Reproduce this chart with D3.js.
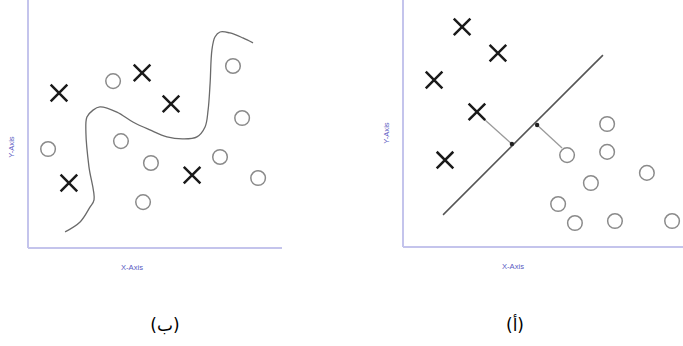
<!DOCTYPE html>
<html>
<head>
<meta charset="utf-8">
<script src="https://cdn.jsdelivr.net/npm/d3@7"></script>
<style>
  html, body { margin: 0; padding: 0; background: #ffffff; }
  svg { display: block; }
</style>
</head>
<body>
<script>
// ---- Data (values in 0..100 panel units) ----
// Left panel (ب): non-linear boundary
const leftCrosses = [[12.2, 62.5], [44.9, 70.6], [56.3, 58.1], [16.1, 26.2], [64.6, 29.4]];
const leftCircles = [[33.5, 67.3], [7.9, 39.9], [36.6, 43.1], [48.4, 34.3], [45.3, 18.5],
                     [80.7, 73.4], [84.3, 52.4], [75.6, 36.7], [90.6, 28.2]];
const leftCurve = [[14.6, 6.5], [20.5, 10.5], [24.4, 16.5], [26.0, 19.4], [24.0, 32.7],
                   [22.8, 46.4], [23.2, 52.8], [25.6, 55.6], [28.3, 56.9], [35.0, 54.8],
                   [41.3, 50.8], [48.0, 47.6], [54.7, 44.8], [61.0, 44.0], [66.5, 44.8],
                   [69.7, 48.8], [70.9, 55.6], [71.7, 66.5], [72.4, 79.8], [73.6, 85.1],
                   [75.6, 87.1], [79.5, 86.7], [84.6, 84.7], [88.6, 82.7]];

// Right panel (أ): linear boundary with margins
const rightCrosses = [[21.1, 89.1], [33.9, 78.5], [11.1, 67.6], [26.4, 54.7], [15.0, 35.2]];
const rightCircles = [[72.9, 49.8], [58.6, 37.2], [72.9, 38.5], [87.1, 30.0], [67.1, 25.9],
                      [55.4, 17.4], [61.4, 9.7], [75.7, 10.5], [96.1, 10.5]];
const rightLine = [[14.3, 13.0], [71.4, 77.7]];
const supportDots = [[38.9, 41.7], [47.9, 49.4]];
const supportSegments = [[[29.3, 51.4], [38.9, 41.7]], [[47.9, 49.4], [56.8, 40.1]]];

const axisLabels = { x: "X-Axis", y: "Y-Axis" };
const panelCaptions = ["(ب)", "(أ)"];

// ---- Drawing ----
const W = 683, H = 346;
const svg = d3.select("body").append("svg").attr("width", W).attr("height", H);

const axisColor = "#c4c4ec";
const labelColor = "#5a5ac2";

function panel(cfg) {
  const x = d3.scaleLinear().domain([0, 100]).range([cfg.x0, cfg.x1]);
  const y = d3.scaleLinear().domain([0, 100]).range([cfg.y0, cfg.y1]);
  const g = svg.append("g");

  g.append("line").attr("x1", x(0)).attr("x2", x(0)).attr("y1", y(0)).attr("y2", y(100))
    .attr("stroke", axisColor).attr("stroke-width", 2);
  g.append("line").attr("x1", x(0)).attr("x2", x(100)).attr("y1", y(0)).attr("y2", y(0))
    .attr("stroke", axisColor).attr("stroke-width", 2);

  g.append("text").attr("x", (x(0) + x(100)) / 2 + cfg.xlabOff).attr("y", y(0) + 22)
    .attr("text-anchor", "middle").attr("font-family", "Liberation Sans, Arial, sans-serif")
    .attr("font-size", 7.6).attr("fill", labelColor).text(axisLabels.x);
  g.append("text")
    .attr("transform", `translate(${x(0) - 14},${cfg.ylabY}) rotate(-90)`)
    .attr("text-anchor", "middle").attr("font-family", "Liberation Sans, Arial, sans-serif")
    .attr("font-size", 7.6).attr("fill", labelColor).text(axisLabels.y);
  return { g, x, y };
}

function drawCrosses(p, data) {
  const s = 8.3;
  p.g.selectAll(null).data(data).enter().append("path")
    .attr("d", d => {
      const cx = p.x(d[0]), cy = p.y(d[1]);
      return `M${cx - s},${cy - s}L${cx + s},${cy + s}M${cx - s},${cy + s}L${cx + s},${cy - s}`;
    })
    .attr("stroke", "#1a1a1a").attr("stroke-width", 2.5).attr("fill", "none");
}
function drawCircles(p, data) {
  p.g.selectAll(null).data(data).enter().append("circle")
    .attr("cx", d => p.x(d[0])).attr("cy", d => p.y(d[1])).attr("r", 7.3)
    .attr("fill", "#fff").attr("stroke", "#8a8a8a").attr("stroke-width", 1.5);
}

// Left panel
const L = panel({ x0: 28, x1: 282, y0: 248, y1: 0, xlabOff: -23, ylabY: 147 });
L.g.append("path")
  .attr("d", d3.line().x(d => L.x(d[0])).y(d => L.y(d[1])).curve(d3.curveCatmullRom.alpha(0.5))(leftCurve))
  .attr("fill", "none").attr("stroke", "#6a6a6a").attr("stroke-width", 1.3);
drawCrosses(L, leftCrosses);
drawCircles(L, leftCircles);

// Right panel
const R = panel({ x0: 403, x1: 683, y0: 247, y1: 0, xlabOff: -30, ylabY: 133 });
R.g.append("path")
  .attr("d", d3.line().x(d => R.x(d[0])).y(d => R.y(d[1]))(rightLine))
  .attr("fill", "none").attr("stroke", "#555").attr("stroke-width", 1.6);
R.g.selectAll(null).data(supportSegments).enter().append("path")
  .attr("d", d => d3.line().x(e => R.x(e[0])).y(e => R.y(e[1]))(d))
  .attr("fill", "none").attr("stroke", "#9a9a9a").attr("stroke-width", 1.3);
R.g.selectAll(null).data(supportDots).enter().append("circle")
  .attr("cx", d => R.x(d[0])).attr("cy", d => R.y(d[1])).attr("r", 2.2).attr("fill", "#222");
drawCrosses(R, rightCrosses);
drawCircles(R, rightCircles);

// Captions
const capX = [165, 515];
svg.selectAll(null).data(panelCaptions).enter().append("text")
  .attr("x", (d, i) => capX[i]).attr("y", 331)
  .attr("text-anchor", "middle").attr("font-family", "DejaVu Sans, sans-serif")
  .attr("font-size", 17).attr("fill", "#000")
  .text(d => d);
</script>
</body>
</html>
